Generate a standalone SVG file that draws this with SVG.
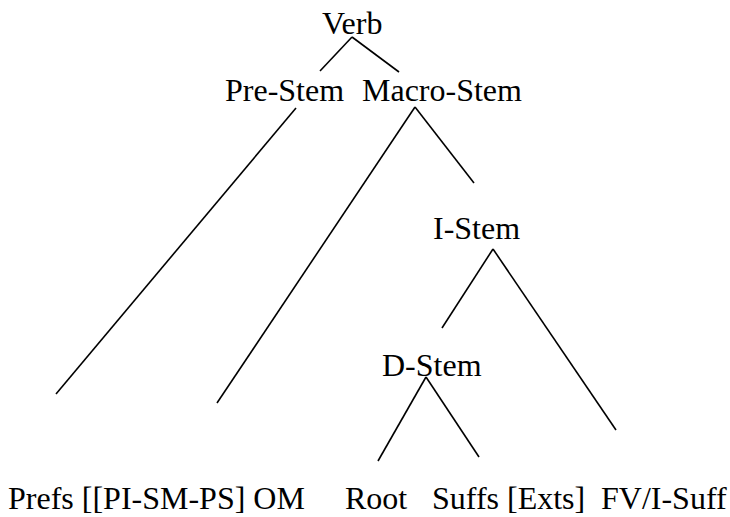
<svg xmlns="http://www.w3.org/2000/svg" width="730" height="517" viewBox="0 0 730 517">
<style>
text{font-family:"Liberation Serif","Times New Roman",serif;font-size:32px;fill:#000}
.edge{stroke:#000;stroke-width:1.6;stroke-linecap:butt;fill:none}
</style>
<rect width="730" height="517" fill="#fff"/>
<g id="connectors">
<line class="edge" x1="352" y1="37" x2="320" y2="71"/>
<line class="edge" x1="352" y1="37" x2="399" y2="72"/>
<line class="edge" x1="296" y1="108" x2="56" y2="394"/>
<line class="edge" x1="415" y1="107" x2="217" y2="403"/>
<line class="edge" x1="415" y1="107" x2="474" y2="183"/>
<line class="edge" x1="493" y1="249" x2="442" y2="328"/>
<line class="edge" x1="493" y1="249" x2="616" y2="430"/>
<line class="edge" x1="426" y1="377" x2="378" y2="461"/>
<line class="edge" x1="426" y1="377" x2="479" y2="457"/>
</g>
<g id="verb"><text x="322" y="34">Verb</text></g>
<g id="pre-stem"><text x="225" y="101">Pre-Stem</text></g>
<g id="macro-stem"><text x="362" y="101">Macro-Stem</text></g>
<g id="i-stem"><text x="433" y="239">I-Stem</text></g>
<g id="d-stem"><text x="382" y="376">D-Stem</text></g>
<g id="prefs"><text x="8" y="509">Prefs [[PI-SM-PS] OM</text></g>
<g id="root"><text x="345" y="509">Root</text></g>
<g id="suffs"><text x="432" y="509">Suffs [Exts]</text></g>
<g id="fv"><text x="601" y="509">FV/I-Suff</text></g>
</svg>
